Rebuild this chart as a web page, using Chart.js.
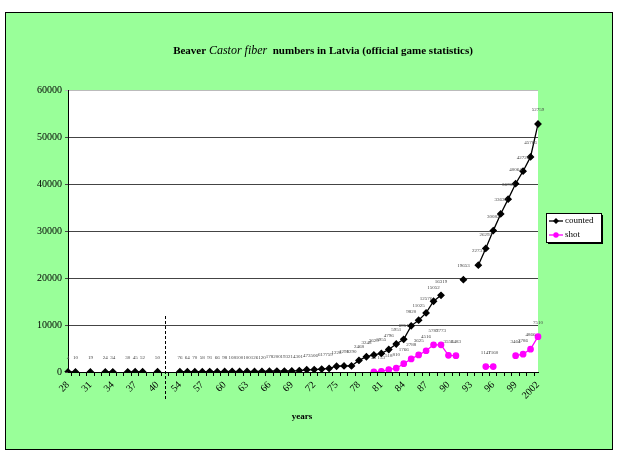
<!DOCTYPE html>
<html>
<head>
<meta charset="utf-8">
<script src="https://cdn.jsdelivr.net/npm/chart.js@4.4.1/dist/chart.umd.min.js"></script>
<style>
  html, body { margin: 0; padding: 0; background: #fff; }
  #frame { position: absolute; left: 5px; top: 12px; width: 606px; height: 436px; background: #99ff99; border: 1px solid #000; }
  #wrap { position: absolute; left: 0; top: 0; width: 620px; height: 459px; }
</style>
</head>
<body>
<div id="frame"></div>
<div id="wrap"><canvas id="beaverChart" width="620" height="459"></canvas></div>
<script>
// years 1928-1940, two blank slots (break), then 1954-2002
const years = ['28','29','30','31','32','33','34','35','36','37','38','39','40','','',
    '54','55','56','57','58','59','60','61','62','63','64','65','66','67','68','69',
    '70','71','72','73','74','75','76','77','78','79','80','81','82','83','84','85',
    '86','87','88','89','90','91','92','93','94','95','96','97','98','99','2000','2001','2002'];

const counted = [4, 10, null, 19, null, 24, 34, null, 30, 45, 52, null, 50, null, null,
    76, 64, 70, 58, 91, 66, 98, 108, 100, 100, 126, 120, 178, 200, 193, 214,
    301, 473, 506, 617, 759, 1228, 1298, 1290, 2468, 3248, 3629, 3955, 4796, 5951, 6951, 9820,
    11025, 12576, 15052, 16319, null, null, 19653, null, 22731, 26293, 30082, 33635, 36780, 40064, 42726, 45766, 52759];

const shot = [null, null, null, null, null, null, null, null, null, null, null, null, null, null, null,
    null, null, null, null, null, null, null, null, null, null, null, null, null, null, null, null,
    null, null, null, null, null, null, null, null, null, null, 45, 153, 518, 810, 1766, 2788,
    3625, 4516, 5787, 5773, 3556, 3483, null, null, null, 1147, 1160, null, null, 3464, 3786, 4866, 7510, null];

const seriesNames = ['counted', 'shot'];
const seriesColors = ['#000000', '#ff00ff'];
const breakIndex = 13;

const serif = '"Liberation Serif", "Times New Roman", serif';

const chartPlugin = {
    id: 'beaverExtras',
    beforeDraw(chart) {
        const a = chart.chartArea;
        const ctx = chart.ctx;
        ctx.save();
        ctx.fillStyle = '#fff';
        ctx.fillRect(a.left, a.top, a.right - a.left, a.bottom - a.top);
        ctx.restore();
    },
    afterDatasetsDraw(chart) {
        const ctx = chart.ctx;
        ctx.save();
        ctx.font = '5px ' + serif;
        ctx.fillStyle = '#444';
        ctx.textAlign = 'center';
        ctx.textBaseline = 'middle';
        chart.data.datasets.forEach((ds, di) => {
            const meta = chart.getDatasetMeta(di);
            meta.data.forEach((pt, i) => {
                const v = ds.data[i];
                if (v === null || v === undefined) return;
                ctx.fillText(String(v), pt.x, pt.y - 14);
            });
        });
        ctx.restore();
    },
    afterDraw(chart) {
        const ctx = chart.ctx;
        const x = chart.scales.x;
        ctx.save();

        // dashed break line
        const bx = Math.round(x.getPixelForValue(breakIndex)) + 0.5;
        ctx.strokeStyle = '#000';
        ctx.lineWidth = 1;
        ctx.setLineDash([3, 2]);
        ctx.beginPath();
        ctx.moveTo(bx, 316);
        ctx.lineTo(bx, 400);
        ctx.stroke();
        ctx.setLineDash([]);

        // title with italic species name
        const parts = [
            ['bold 11px ' + serif, 'Beaver '],
            ['italic 12px ' + serif, 'Castor fiber'],
            ['bold 11px ' + serif, '  numbers in Latvia (official game statistics)']
        ];
        let total = 0;
        parts.forEach(p => { ctx.font = p[0]; total += ctx.measureText(p[1]).width; });
        let tx = 323 - total / 2;
        ctx.fillStyle = '#000';
        ctx.textBaseline = 'alphabetic';
        ctx.textAlign = 'left';
        parts.forEach(p => {
            ctx.font = p[0];
            ctx.fillText(p[1], tx, 54);
            tx += ctx.measureText(p[1]).width;
        });

        // axis title
        ctx.font = 'bold 9px ' + serif;
        ctx.textAlign = 'center';
        ctx.textBaseline = 'middle';
        ctx.fillText('years', 302, 417);

        // legend box
        const lx = 546, ly = 213, lw = 55, lh = 29;
        ctx.fillStyle = '#000';
        ctx.fillRect(lx + 2, ly + 2, lw, lh);
        ctx.fillStyle = '#fff';
        ctx.fillRect(lx, ly, lw, lh);
        ctx.strokeStyle = '#000';
        ctx.lineWidth = 1;
        ctx.strokeRect(lx + 0.5, ly + 0.5, lw, lh);
        seriesNames.forEach((name, i) => {
            const yy = ly + 8 + i * 14;
            ctx.strokeStyle = seriesColors[i];
            ctx.fillStyle = seriesColors[i];
            ctx.lineWidth = 1.3;
            ctx.beginPath();
            ctx.moveTo(lx + 3, yy);
            ctx.lineTo(lx + 17, yy);
            ctx.stroke();
            ctx.beginPath();
            if (i === 0) {
                ctx.moveTo(lx + 10, yy - 3);
                ctx.lineTo(lx + 13, yy);
                ctx.lineTo(lx + 10, yy + 3);
                ctx.lineTo(lx + 7, yy);
                ctx.closePath();
            } else {
                ctx.arc(lx + 10, yy, 2.7, 0, Math.PI * 2);
            }
            ctx.fill();
            ctx.fillStyle = '#000';
            ctx.font = '9px ' + serif;
            ctx.textAlign = 'left';
            ctx.fillText(name, lx + 19, yy);
        });
        ctx.restore();
    }
};

const ctx = document.getElementById('beaverChart').getContext('2d');

new Chart(ctx, {
    type: 'line',
    data: {
        labels: years,
        datasets: [
            {
                label: seriesNames[0],
                data: counted,
                borderColor: seriesColors[0],
                backgroundColor: seriesColors[0],
                borderWidth: 1.3,
                pointStyle: 'rectRot',
                pointRadius: 3,
                spanGaps: false,
                tension: 0
            },
            {
                label: seriesNames[1],
                data: shot,
                borderColor: seriesColors[1],
                backgroundColor: seriesColors[1],
                borderWidth: 1.3,
                pointStyle: 'circle',
                pointRadius: 2.7,
                spanGaps: false,
                tension: 0
            }
        ]
    },
    options: {
        responsive: false,
        animation: false,
        layout: { padding: { left: 24, right: 82, top: 90, bottom: 41 } },
        plugins: {
            legend: { display: false },
            title: { display: false },
            tooltip: { enabled: false }
        },
        scales: {
            x: {
                afterFit: s => { s.height = 46; },
                grid: {
                    display: true,
                    drawOnChartArea: false,
                    drawTicks: true,
                    tickLength: 4,
                    offset: true,
                    color: '#000'
                },
                border: { color: '#000', width: 1 },
                ticks: {
                    autoSkip: false,
                    maxRotation: 45,
                    minRotation: 45,
                    padding: 3,
                    color: '#000',
                    font: { family: serif, size: 10 },
                    callback: function(val, index) {
                        return index % 3 === 0 ? this.getLabelForValue(val) : '';
                    }
                }
            },
            y: {
                min: 0,
                max: 60000,
                afterFit: s => { s.width = 44; },
                grid: {
                    color: c => (c.tick && c.tick.value === 60000) ? '#bbbbbb' : '#444444',
                    tickLength: 3
                },
                border: { color: '#000', width: 1 },
                ticks: {
                    stepSize: 10000,
                    padding: 3,
                    color: '#000',
                    font: { family: serif, size: 10 },
                    callback: v => String(v)
                }
            }
        }
    },
    plugins: [chartPlugin]
});
</script>
</body>
</html>
